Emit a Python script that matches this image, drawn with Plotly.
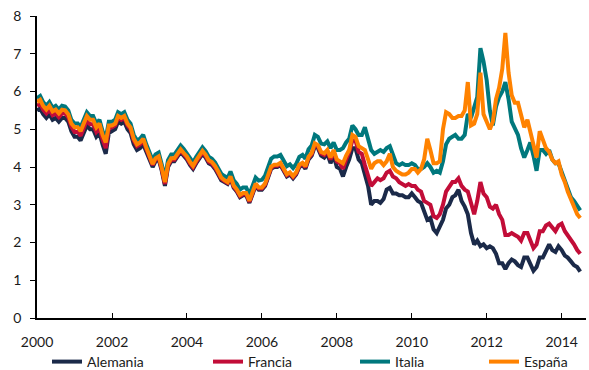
import pandas as pd
import plotly.graph_objects as go

# Monthly observation dates, Jan 2000 - Jul 2014
dates = pd.date_range("2000-01-01", "2014-07-01", freq="MS")

# 10-year government bond yields (%), monthly
alemania = [
    5.50, 5.55, 5.40, 5.30, 5.40, 5.25, 5.30, 5.20, 5.30, 5.30, 5.20, 4.95,
    4.80, 4.80, 4.70, 4.90, 5.10, 5.00, 5.00, 4.80, 4.90, 4.60, 4.35, 4.90,
    4.95, 5.00, 5.20, 5.15, 5.20, 5.00, 4.90, 4.60, 4.45, 4.50, 4.60, 4.40,
    4.20, 4.00, 4.15, 4.20, 3.90, 3.50, 4.00, 4.15, 4.15, 4.30, 4.40, 4.30,
    4.20, 4.05, 3.95, 4.10, 4.25, 4.35, 4.25, 4.10, 4.05, 3.95, 3.80, 3.65,
    3.60, 3.55, 3.70, 3.45, 3.35, 3.20, 3.25, 3.25, 3.05, 3.25, 3.50, 3.40,
    3.40, 3.50, 3.70, 3.95, 4.00, 4.00, 4.05, 3.90, 3.75, 3.80, 3.70, 3.80,
    4.00, 4.05, 3.95, 4.20, 4.30, 4.55, 4.50, 4.30, 4.25, 4.35, 4.10, 4.30,
    4.00, 3.95, 3.75, 4.00, 4.20, 4.50, 4.50, 4.20, 4.10, 3.80, 3.50, 3.00,
    3.10, 3.10, 3.05, 3.15, 3.40, 3.45, 3.30, 3.30, 3.25, 3.25, 3.20, 3.20,
    3.30, 3.20, 3.10, 3.05, 2.80, 2.60, 2.65, 2.35, 2.25, 2.40, 2.60, 2.90,
    3.00, 3.20, 3.25, 3.40, 3.10, 2.95, 2.75, 2.25, 1.95, 2.05, 1.90, 1.95,
    1.85, 1.90, 1.85, 1.70, 1.45, 1.45, 1.30, 1.45, 1.55, 1.50, 1.40, 1.35,
    1.60, 1.60, 1.40, 1.25, 1.35, 1.60, 1.60, 1.80, 1.95, 1.80, 1.75, 1.90,
    1.80, 1.65, 1.60, 1.50, 1.40, 1.35, 1.23,
]

francia = [
    5.62, 5.68, 5.52, 5.42, 5.52, 5.37, 5.42, 5.32, 5.42, 5.42, 5.32, 5.07,
    4.93, 4.93, 4.83, 5.03, 5.23, 5.13, 5.13, 4.93, 5.03, 4.73, 4.50, 5.03,
    5.05, 5.10, 5.30, 5.25, 5.30, 5.10, 5.00, 4.70, 4.55, 4.60, 4.70, 4.48,
    4.26, 4.05, 4.20, 4.25, 3.94, 3.55, 4.04, 4.19, 4.19, 4.34, 4.44, 4.34,
    4.24, 4.09, 3.99, 4.14, 4.29, 4.39, 4.29, 4.14, 4.09, 3.99, 3.84, 3.69,
    3.63, 3.58, 3.73, 3.48, 3.38, 3.23, 3.28, 3.28, 3.08, 3.28, 3.53, 3.43,
    3.43, 3.53, 3.73, 3.98, 4.03, 4.03, 4.08, 3.93, 3.78, 3.83, 3.73, 3.83,
    4.03, 4.09, 3.99, 4.24, 4.34, 4.60, 4.55, 4.36, 4.32, 4.42, 4.20, 4.40,
    4.15, 4.10, 3.95, 4.20, 4.40, 4.70, 4.70, 4.40, 4.35, 4.05, 3.80, 3.50,
    3.60, 3.70, 3.65, 3.70, 3.85, 3.90, 3.75, 3.70, 3.60, 3.55, 3.50, 3.55,
    3.50, 3.50, 3.40, 3.35, 3.10, 3.05, 3.00, 2.70, 2.65, 2.75, 3.00, 3.35,
    3.50, 3.60, 3.60, 3.70, 3.50, 3.40, 3.35, 3.00, 2.75, 3.10, 3.60, 3.30,
    3.20, 2.95, 2.90, 3.00, 2.75, 2.60, 2.20, 2.20, 2.25, 2.20, 2.15, 2.05,
    2.25, 2.25, 2.05, 1.85, 1.95, 2.30, 2.30, 2.45, 2.50, 2.40, 2.30, 2.45,
    2.50, 2.30, 2.20, 2.05, 1.95, 1.80, 1.70,
]

italia = [
    5.82, 5.88, 5.72, 5.62, 5.72, 5.57, 5.62, 5.52, 5.62, 5.60, 5.50, 5.25,
    5.15, 5.15, 5.05, 5.25, 5.45, 5.35, 5.35, 5.15, 5.25, 4.95, 4.75, 5.20,
    5.20, 5.25, 5.45, 5.40, 5.45, 5.25, 5.15, 4.85, 4.70, 4.75, 4.85, 4.60,
    4.38, 4.18, 4.33, 4.38, 4.07, 3.70, 4.18, 4.33, 4.33, 4.47, 4.57, 4.48,
    4.37, 4.22, 4.12, 4.27, 4.42, 4.52, 4.42, 4.27, 4.22, 4.12, 3.97, 3.82,
    3.76, 3.71, 3.88, 3.65, 3.55, 3.40, 3.46, 3.46, 3.27, 3.47, 3.72, 3.64,
    3.66, 3.77, 3.98, 4.22, 4.28, 4.28, 4.32, 4.17, 4.02, 4.07, 3.97, 4.08,
    4.27, 4.32, 4.22, 4.47, 4.57, 4.85, 4.80, 4.62, 4.60, 4.68, 4.50, 4.65,
    4.45, 4.45, 4.50, 4.65, 4.75, 5.10, 5.00, 4.85, 4.85, 5.05, 4.75, 4.45,
    4.35, 4.40, 4.45, 4.40, 4.50, 4.55, 4.35, 4.10, 4.05, 4.10, 4.05, 4.05,
    4.10, 4.05, 3.95, 3.95, 4.00, 4.10, 4.00, 3.85, 3.90, 3.85, 4.15, 4.60,
    4.75, 4.80, 4.85, 4.75, 4.75, 4.85, 5.40, 5.30, 5.60, 5.85, 7.15, 6.80,
    6.30, 5.50, 5.10, 5.60, 5.85, 6.00, 6.25, 5.80, 5.20, 5.00, 4.85, 4.50,
    4.25, 4.45, 4.65, 4.30, 3.90, 4.45, 4.45, 4.35, 4.45, 4.20, 4.10, 4.10,
    3.85, 3.65, 3.40, 3.20, 3.10, 2.95, 2.85,
]

espana = [
    5.72, 5.78, 5.62, 5.52, 5.62, 5.47, 5.52, 5.42, 5.52, 5.50, 5.40, 5.15,
    5.05, 5.05, 4.95, 5.15, 5.35, 5.25, 5.25, 5.05, 5.15, 4.85, 4.65, 5.10,
    5.10, 5.15, 5.35, 5.30, 5.35, 5.15, 5.05, 4.75, 4.60, 4.65, 4.75, 4.52,
    4.28, 4.08, 4.23, 4.28, 3.98, 3.60, 4.08, 4.23, 4.23, 4.37, 4.47, 4.37,
    4.28, 4.13, 4.03, 4.18, 4.33, 4.43, 4.33, 4.18, 4.13, 4.03, 3.88, 3.72,
    3.65, 3.60, 3.75, 3.51, 3.41, 3.26, 3.31, 3.31, 3.11, 3.31, 3.56, 3.46,
    3.46, 3.56, 3.76, 4.01, 4.06, 4.06, 4.11, 3.96, 3.81, 3.86, 3.76, 3.86,
    4.06, 4.11, 4.02, 4.27, 4.37, 4.63, 4.58, 4.40, 4.36, 4.45, 4.25, 4.45,
    4.20, 4.15, 4.10, 4.30, 4.45, 4.85, 4.80, 4.55, 4.50, 4.45, 4.20, 3.95,
    4.10, 4.15, 4.15, 4.05, 4.15, 4.35, 4.00, 3.90, 3.85, 3.80, 3.80, 3.85,
    3.95, 3.95, 3.85, 3.95, 4.20, 4.75, 4.45, 4.10, 4.10, 4.15, 5.00, 5.45,
    5.40, 5.30, 5.30, 5.35, 5.35, 5.50, 6.25, 5.10, 5.15, 5.40, 6.50, 5.40,
    5.20, 5.00, 5.20, 5.80, 6.10, 6.60, 7.55, 6.50, 5.90, 5.70, 5.70, 5.35,
    5.05, 5.25, 4.95, 4.55, 4.25, 4.95, 4.75, 4.50, 4.40, 4.20, 4.10, 4.15,
    3.80, 3.60, 3.35, 3.15, 2.95, 2.75, 2.65,
]

series = [
    ("Alemania", alemania, "#1B2A49", "legend"),
    ("Francia", francia, "#C20D38", "legend2"),
    ("Italia", italia, "#00787D", "legend3"),
    ("España", espana, "#FF8200", "legend4"),
]

FONT = "Lato, 'Open Sans', sans-serif"

fig = go.Figure()
for name, values, color, leg in series:
    fig.add_trace(go.Scatter(
        x=dates, y=values, name=name, mode="lines",
        line=dict(color=color, width=4),
        legend=leg,
    ))

# one legend box per entry so each sits at its own horizontal slot
legend_x = {"legend": 47, "legend2": 208, "legend3": 355, "legend4": 484}
legend_style = dict(
    orientation="h", xref="container", yref="container",
    yanchor="middle", xanchor="left", y=1 - 362 / 370,
    font=dict(family=FONT, size=14, color="#1a1a1a"),
    bgcolor="rgba(0,0,0,0)", borderwidth=0,
    itemwidth=30, tracegroupgap=0,
)
legends = {k: dict(legend_style, x=v / 589) for k, v in legend_x.items()}

fig.update_layout(
    width=589, height=370,
    margin=dict(l=37, r=3, t=16, b=52),
    paper_bgcolor="white", plot_bgcolor="white",
    font=dict(family=FONT, size=14, color="#1a1a1a"),
    showlegend=True,
    **legends,
)

fig.update_xaxes(
    type="date",
    range=["2000-01-01", "2014-08-26"],
    tickvals=pd.date_range("2000-01-01", "2014-01-01", freq="2YS"),
    tickformat="%Y",
    ticks="inside", ticklen=5, tickwidth=1.2, tickcolor="#000",
    showline=True, linecolor="#000", linewidth=1.5,
    showgrid=False, zeroline=False,
    ticklabelstandoff=10, automargin=False,
    tickfont=dict(family=FONT, size=14, color="#1a1a1a"),
)
fig.update_yaxes(
    range=[0, 8], dtick=1,
    ticks="outside", ticklen=5, tickwidth=1.2, tickcolor="#000",
    showline=True, linecolor="#000", linewidth=1.5,
    showgrid=False, zeroline=False,
    ticklabelstandoff=6, automargin=False,
    tickfont=dict(family=FONT, size=14, color="#1a1a1a"),
)

fig.write_html("out.html")
